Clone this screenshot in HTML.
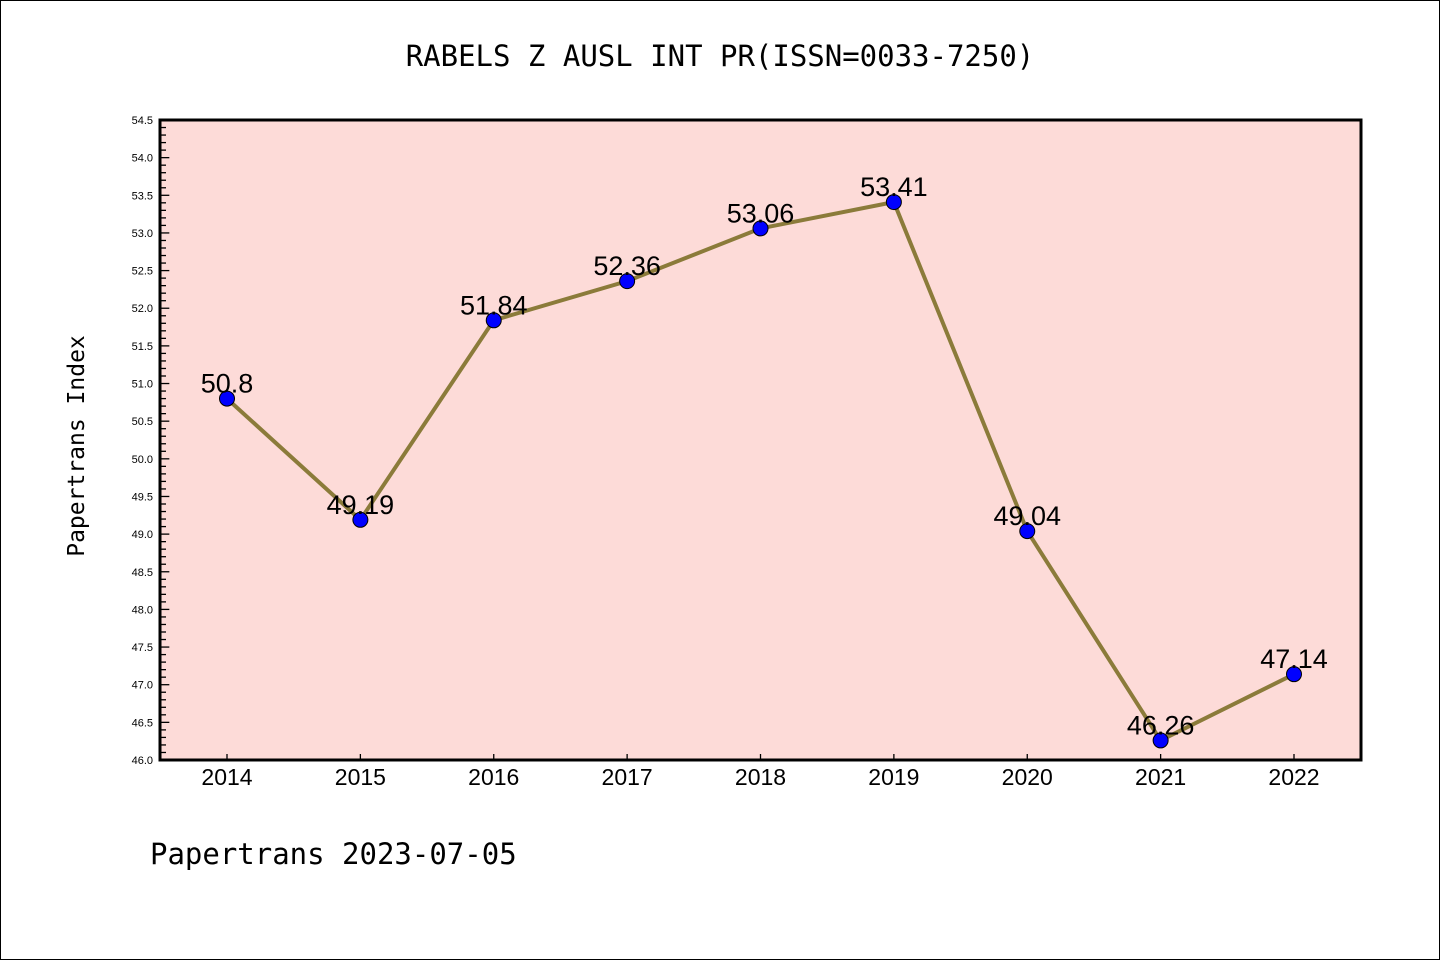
<!DOCTYPE html>
<html><head><meta charset="utf-8"><style>
html,body{margin:0;padding:0;background:#fff}
svg{display:block;font-family:"Liberation Sans","DejaVu Sans",sans-serif}
</style></head><body>
<svg id="chart" width="1440" height="960" viewBox="0 0 1440 960">
<rect x="0.5" y="0.5" width="1439" height="959" fill="#fff" stroke="#000" stroke-width="1"/>
<text x="720" y="66" text-anchor="middle" font-size="29" font-family="'DejaVu Sans Mono','Liberation Mono',monospace">RABELS Z AUSL INT PR(ISSN=0033-7250)</text>
<rect x="160" y="120" width="1201" height="640" fill="#fddbd8"/>
<g id="yaxis"></g>
<g id="xaxis"></g>
<g id="series"></g>
<rect x="160" y="120" width="1201" height="640" fill="none" stroke="#000" stroke-width="3"/>
<text transform="translate(84,446) rotate(-90)" text-anchor="middle" font-size="23" font-family="'DejaVu Sans Mono','Liberation Mono',monospace">Papertrans Index</text>
<text x="150" y="864" font-size="29" font-family="'DejaVu Sans Mono','Liberation Mono',monospace">Papertrans 2023-07-05</text>
</svg>
<script>
const years = ["2014","2015","2016","2017","2018","2019","2020","2021","2022"];
const values = [50.8, 49.19, 51.84, 52.36, 53.06, 53.41, 49.04, 46.26, 47.14];
const valueLabels = ["50.8","49.19","51.84","52.36","53.06","53.41","49.04","46.26","47.14"];
const yMin = 46.0, yMax = 54.5;
const NS = "http://www.w3.org/2000/svg";
const L=160,R=1361,T=120,B=760;
function y(v){return B-(v-yMin)/(yMax-yMin)*(B-T);}
function x(i){return 227+i*(1294-227)/(years.length-1);}
function mk(tag,attrs,parent){const e=document.createElementNS(NS,tag);for(const k in attrs)e.setAttribute(k,attrs[k]);parent.appendChild(e);return e;}
const ya=document.getElementById('yaxis'),xa=document.getElementById('xaxis'),se=document.getElementById('series');
for(let k=0;k<=Math.round((yMax-yMin)*10);k++){
  const v=yMin+k*0.1, yy=y(v), major=k%5===0;
  const t=mk('line',{x1:L,x2:L+(major?28/3*1:6),y1:yy,y2:yy,stroke:'#000','stroke-width':1.3},ya);
  
  
  if(major){
    const lb=mk('text',{x:L-7,y:yy+4,'text-anchor':'end','font-size':11},ya);
    lb.textContent=v.toFixed(1);
    
    
  }
}
years.forEach((yr,i)=>{
  const t=mk('line',{x1:x(i),x2:x(i),y1:B,y2:B-6,stroke:'#000','stroke-width':1.3},xa);
  
  
  const lb=mk('text',{x:x(i),y:B+25,'text-anchor':'middle','font-size':23},xa);
  lb.textContent=yr;
  
  
});
const pl=mk('polyline',{points:values.map((v,i)=>x(i)+','+y(v)).join(' '),fill:'none',stroke:'#8b7b3a','stroke-width':4},se);


values.forEach((v,i)=>{
  const c=mk('circle',{cx:x(i),cy:y(v),r:7.5,fill:'#0000ff',stroke:'#000','stroke-width':1},se);
  
  
  const lb=mk('text',{x:x(i),y:y(v)-6,'text-anchor':'middle','font-size':27},se);
  lb.textContent=valueLabels[i];
  
  
});
</script>
</body></html>
